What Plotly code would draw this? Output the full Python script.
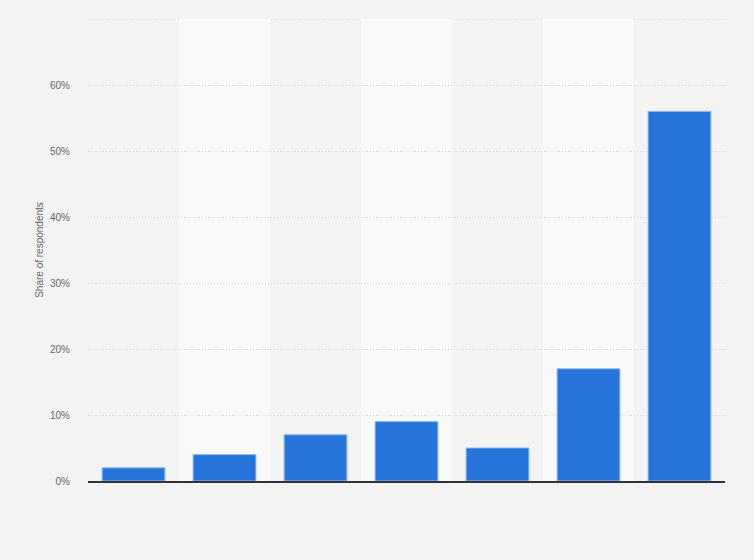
import plotly.graph_objects as go

# Share of respondents per answer option (x labels not shown in the source)
categories = ["A", "B", "C", "D", "E", "F", "G"]
shares = [2, 4, 7, 9, 5, 17, 56]

y_ticks = [0, 10, 20, 30, 40, 50, 60]
y_tick_labels = [f"{v}%" for v in y_ticks]

fig = go.Figure()

fig.add_trace(go.Bar(
    x=categories,
    y=shares,
    marker=dict(color="#2775db", line=dict(color="#8fb8ee", width=1)),
    width=0.69,
    hovertemplate="%{y}%<extra></extra>",
))

# alternating light column bands behind the bars
for i in range(1, len(categories), 2):
    fig.add_shape(
        type="rect", xref="x", yref="y",
        x0=i - 0.5, x1=i + 0.5, y0=0, y1=70,
        fillcolor="#f9f9f9", line_width=0, layer="below",
    )

fig.update_layout(
    width=754, height=560,
    margin=dict(l=88, r=29, t=19, b=79),
    paper_bgcolor="#f3f3f3",
    plot_bgcolor="#f3f3f3",
    font=dict(family="Liberation Sans, Arial, sans-serif", size=10, color="#666666"),
    showlegend=False,
    bargap=0.3,
)

fig.update_xaxes(
    showticklabels=False,
    showgrid=False,
    showline=True, linecolor="#333333", linewidth=1.5,
    range=[-0.5, len(categories) - 0.5],
    fixedrange=True,
)

fig.update_yaxes(
    range=[0, 70],
    tickvals=y_ticks,
    ticktext=y_tick_labels,
    showgrid=True, gridcolor="#d6d6d6", griddash="1px,2px", gridwidth=1,
    zeroline=False,
    ticks="outside", ticklen=15, tickcolor="rgba(0,0,0,0)",
    tickfont=dict(size=10, color="#666666"),
    title=dict(text="Share of respondents", font=dict(size=10, color="#666666"), standoff=4),
    fixedrange=True,
)

# top gridline at 70% (no label)
fig.add_shape(
    type="line", xref="paper", yref="y", x0=0, x1=1, y0=70, y1=70,
    line=dict(color="#d6d6d6", width=1, dash="1px,2px"), layer="below",
)

fig.write_html(
    "out.html",
    config={"displayModeBar": False},
    post_script="document.body.style.margin='0';",
)
